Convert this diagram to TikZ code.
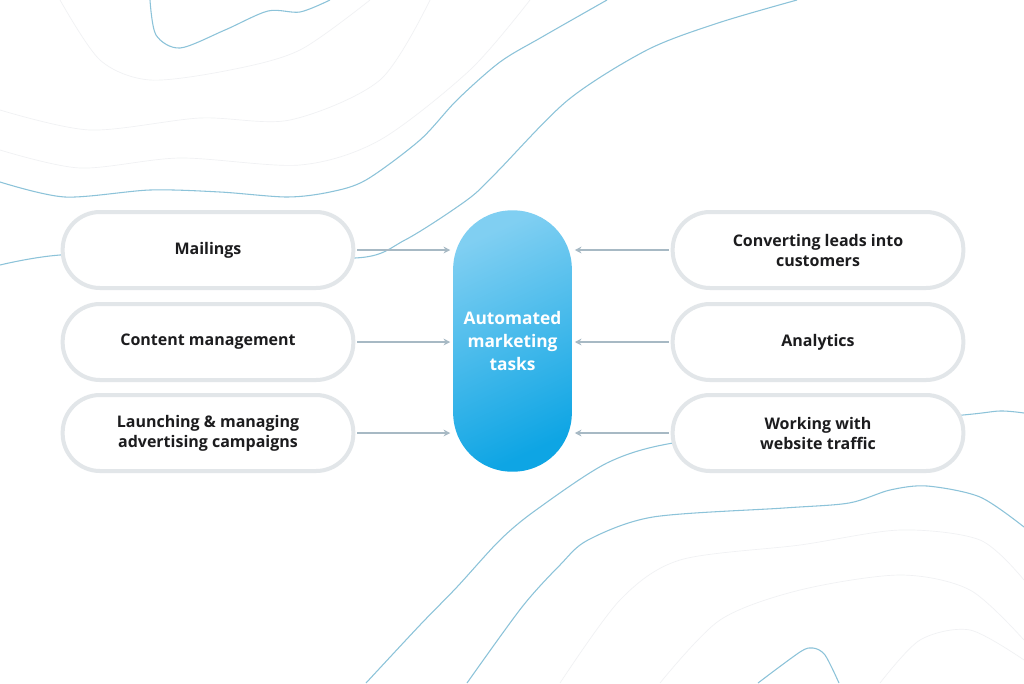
\documentclass[tikz,border=0pt]{standalone}
\usepackage{fontspec}
\setmainfont{Open Sans}
\usepackage{xcolor}
\usepackage{tikz}
\usetikzlibrary{arrows.meta, positioning, calc}
\definecolor{mkline}{RGB}{140,195,217}
\definecolor{mkhaze}{RGB}{240,241,243}
\definecolor{mkedge}{RGB}{226,230,233}
\definecolor{mkarrow}{RGB}{167,185,196}
\definecolor{mktop}{RGB}{128,207,242}
\definecolor{mkmid}{RGB}{42,175,232}
\definecolor{mkbottom}{RGB}{14,165,228}
\definecolor{mktext}{RGB}{28,28,30}

\begin{document}
\begin{tikzpicture}[x=0.75pt,y=-0.75pt,
  task/.style={draw=mkedge,line width=3pt,fill=white,rounded corners=28pt,minimum width=218pt,minimum height=57pt,align=center,text=mktext,font=\bfseries\fontsize{12}{15}\selectfont},
  hub/.style={rounded corners=44pt,minimum width=89pt,minimum height=196pt,top color=mktop,middle color=mkmid,bottom color=mkbottom,shading angle=25,align=center,text=white,font=\bfseries\fontsize{13}{17}\selectfont},
  feed/.style={draw=mkarrow,line width=1pt,-{Stealth[length=5pt,width=5pt]},shorten <=1.5pt,shorten >=2pt},
  contour/.style={draw=mkline,line width=0.8pt},
  haze/.style={draw=mkhaze,line width=0.5pt}]
\useasboundingbox[fill=white] (0,0) rectangle (1024,683);

% background lines
\draw[haze] plot[smooth] coordinates {(0,150) (80,168) (180,158) (300,165) (380,140) (470,70) (530,0)};
\draw[haze] plot[smooth] coordinates {(0,110) (90,130) (200,118) (290,120) (380,80) (430,0)};
\draw[haze] plot[smooth] coordinates {(60,0) (100,60) (150,80) (230,70) (300,50) (370,0)};
\draw[haze] plot[smooth] coordinates {(560,683) (620,600) (680,560) (800,545) (900,530) (980,540) (1024,580)};
\draw[haze] plot[smooth] coordinates {(660,683) (720,620) (800,590) (900,575) (970,590) (1024,640)};
\draw[haze] plot[smooth] coordinates {(880,683) (920,640) (970,630) (1024,660)};
\draw[contour] plot[smooth] coordinates {(150,0) (156,35) (180,48) (225,30) (268,11) (300,12) (330,0)};
\draw[contour] plot[smooth] coordinates {(0,182) (65,197) (150,190) (220,192) (287,197) (330,192) (366,180) (420,140) (457,100) (500,62) (542,37) (607,0)};
\draw[contour] plot[smooth] coordinates {(0,265) (60,255) (200,250) (355,258) (405,240) (467,200) (496,173) (568,100) (647,50) (718,23) (797,0)};
\draw[contour] plot[smooth] coordinates {(366,683) (420,625) (457,587) (500,540) (536,510) (607,463) (673,443) (800,430) (963,415) (1000,411) (1024,413)};
\draw[contour] plot[smooth] coordinates {(467,683) (522,607) (560,565) (588,540) (653,517) (784,508) (849,503) (890,490) (927,486) (980,497) (1024,527)};
\draw[contour] plot[smooth] coordinates {(758,683) (800,652) (813,648) (825,655) (839,683)};

\node[task] (mail) at (208,250) {Mailings};
\node[task] (content) at (208,342) {Content management};
\node[task] (ads) at (208,433) {Launching \& managing\\advertising campaigns};
\node[task] (leads) at (818,250) {Converting leads into\\customers};
\node[task] (stats) at (818,342) {Analytics};
\node[task] (traffic) at (818,433) {Working with\\website traffic};
\node[hub] (auto) at (512.5,341) {Automated\\marketing\\tasks};

\foreach \n in {mail,content,ads}
  \draw[feed] (\n) -- (\n -| auto.west);
\foreach \n in {leads,stats,traffic}
  \draw[feed] (\n) -- (\n -| auto.east);
\end{tikzpicture}
\end{document}
